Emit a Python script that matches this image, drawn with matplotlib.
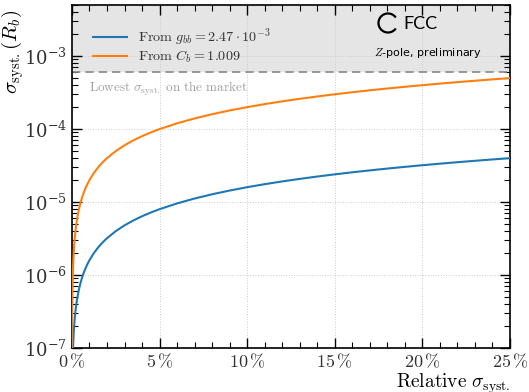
import matplotlib
matplotlib.use("Agg")
import matplotlib.pyplot as plt
from matplotlib.patches import Arc
from matplotlib.ticker import MultipleLocator, FixedLocator, LogLocator, FuncFormatter, LogFormatterMathtext, NullFormatter

plt.rcParams["mathtext.fontset"] = "cm"
plt.rcParams["font.family"] = ["DejaVu Serif"]

# Relative systematic uncertainty (in %) and resulting sigma_syst(R_b)
rel_sigma = [0.005, 0.01, 0.015, 0.02, 0.03, 0.04, 0.05, 0.07, 0.1, 0.13, 0.16, 0.2, 0.25,
             0.3, 0.4, 0.5, 0.6, 0.7, 0.8, 0.9, 1.0, 1.25, 1.5, 1.75, 2.0, 2.5, 3.0, 3.5,
             4.0, 4.5, 5.0, 6.0, 7.0, 8.0, 9.0, 10.0, 11.0, 12.0, 13.0, 14.0, 15.0, 16.0,
             17.0, 18.0, 19.0, 20.0, 21.0, 22.0, 23.0, 24.0, 25.0]
sigma_from_gbb = [8.0e-9, 1.6e-8, 2.4e-8, 3.2e-8, 4.8e-8, 6.4e-8, 8.0e-8, 1.12e-7, 1.6e-7,
                  2.08e-7, 2.56e-7, 3.2e-7, 4.0e-7, 4.8e-7, 6.4e-7, 8.0e-7, 9.6e-7, 1.12e-6,
                  1.28e-6, 1.44e-6, 1.6e-6, 2.0e-6, 2.4e-6, 2.8e-6, 3.2e-6, 4.0e-6, 4.8e-6,
                  5.6e-6, 6.4e-6, 7.2e-6, 8.0e-6, 9.6e-6, 1.12e-5, 1.28e-5, 1.44e-5, 1.6e-5,
                  1.76e-5, 1.92e-5, 2.08e-5, 2.24e-5, 2.4e-5, 2.56e-5, 2.72e-5, 2.88e-5,
                  3.04e-5, 3.2e-5, 3.36e-5, 3.52e-5, 3.68e-5, 3.84e-5, 4.0e-5]
sigma_from_cb = [1.0e-7, 2.0e-7, 3.0e-7, 4.0e-7, 6.0e-7, 8.0e-7, 1.0e-6, 1.4e-6, 2.0e-6,
                 2.6e-6, 3.2e-6, 4.0e-6, 5.0e-6, 6.0e-6, 8.0e-6, 1.0e-5, 1.2e-5, 1.4e-5,
                 1.6e-5, 1.8e-5, 2.0e-5, 2.5e-5, 3.0e-5, 3.5e-5, 4.0e-5, 5.0e-5, 6.0e-5,
                 7.0e-5, 8.0e-5, 9.0e-5, 1.0e-4, 1.2e-4, 1.4e-4, 1.6e-4, 1.8e-4, 2.0e-4,
                 2.2e-4, 2.4e-4, 2.6e-4, 2.8e-4, 3.0e-4, 3.2e-4, 3.4e-4, 3.6e-4, 3.8e-4,
                 4.0e-4, 4.2e-4, 4.4e-4, 4.6e-4, 4.8e-4, 5.0e-4]
market_lowest = 6.0e-4
label_gbb = r"$\mathrm{From}\ g_{bb} = 2.47 \cdot 10^{-3}$"
label_cb = r"$\mathrm{From}\ C_b = 1.009$"
x_ticks = [0, 5, 10, 15, 20, 25]

fig = plt.figure(figsize=(5.29, 3.92), dpi=100)
ax = fig.add_axes([0.136, 0.112, 0.828, 0.875])

ax.set_yscale("log")
ax.set_xlim(0, 25)
ax.set_ylim(1e-7, 5e-3)

ax.axhspan(market_lowest, 1, color="#e5e5e5", zorder=0, lw=0)
ax.axhline(market_lowest, color="#888888", ls=(0, (5, 3)), lw=1.2, zorder=1)
ax.text(1.0, 3.6e-4, r"$\mathrm{Lowest}\ \sigma_{\mathrm{syst.}}\ \mathrm{on\ the\ market}$",
        color="#a0a0a0", fontsize=9.5, va="center", ha="left")

ax.plot(rel_sigma, sigma_from_gbb, color="#1f77b4", lw=1.5, label=label_gbb, zorder=3)
ax.plot(rel_sigma, sigma_from_cb, color="#ff7f0e", lw=1.5, label=label_cb, zorder=3)

ax.grid(True, which="major", color="#cccccc", ls=":", lw=0.7, zorder=0)
ax.set_axisbelow(True)

ax.xaxis.set_major_locator(FixedLocator(x_ticks))
ax.xaxis.set_minor_locator(MultipleLocator(1))
ax.xaxis.set_major_formatter(FuncFormatter(lambda v, p: r"$%d\,\%%$" % round(v)))
ax.yaxis.set_major_locator(LogLocator(base=10, numticks=10))
ax.yaxis.set_minor_locator(LogLocator(base=10, subs=range(2, 10), numticks=20))
ax.yaxis.set_major_formatter(LogFormatterMathtext())
ax.yaxis.set_minor_formatter(NullFormatter())

ax.tick_params(which="both", direction="in", top=True, right=True, labelsize=13,
               colors="black", labelcolor="#333333")
ax.tick_params(which="major", length=7, width=1)
ax.tick_params(which="minor", length=4, width=0.8)
for s in ax.spines.values():
    s.set_linewidth(1.2)

ax.set_ylabel(r"$\sigma_{\mathrm{syst.}}(R_b)$", fontsize=15, loc="top")
ax.yaxis.set_label_coords(-0.104, 0.985)
ax.set_xlabel(r"$\mathrm{Relative}\ \sigma_{\mathrm{syst.}}$", fontsize=14, loc="right", labelpad=0)

leg = ax.legend(loc="upper left", bbox_to_anchor=(0.018, 0.975), frameon=False, fontsize=10.2,
                handlelength=2.4, handletextpad=0.8, labelspacing=0.0, borderaxespad=0.5)
for t in leg.get_texts():
    t.set_color("#333333")

# FCC badge
arc = Arc((3.88, 3.69), 0.19, 0.19, theta1=35, theta2=325, color="black", lw=1.6,
          transform=fig.dpi_scale_trans)
fig.add_artist(arc)
fig.text(403 / 529, 1 - 24 / 392, "FCC", fontsize=13, family="Lato", va="center", ha="left")
fig.text(428 / 529, 1 - 53 / 392, r"$\mathit{Z}$-pole, preliminary", fontsize=8,
         family="DejaVu Sans", va="center", ha="center")

fig.savefig("out.png", dpi=100)
